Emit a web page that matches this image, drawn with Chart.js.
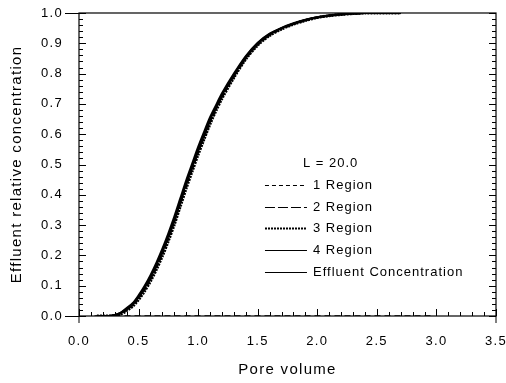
<!DOCTYPE html>
<html>
<head>
<meta charset="utf-8">
<script src="https://cdn.jsdelivr.net/npm/chart.js@4.4.0/dist/chart.umd.min.js"></script>
<style>
  html, body { margin: 0; padding: 0; background: #fff; }
  #wrap { width: 506px; height: 383px; position: relative; }
</style>
</head>
<body>
<div id="wrap"><canvas id="chart"></canvas></div>
<script>
// pore volume (x) shared by all curves
var poreVolume = [0.15, 0.2, 0.25, 0.3, 0.35, 0.4, 0.45, 0.5, 0.55, 0.6, 0.65, 0.7, 0.75, 0.8, 0.85, 0.9, 0.95, 1.0, 1.05, 1.1, 1.15, 1.2, 1.3, 1.4, 1.5, 1.6, 1.7, 1.8, 1.9, 2.0, 2.1, 2.2, 2.3, 2.4, 2.5, 2.6, 2.7];

var region1 = [0, 0, 0, 0.002, 0.008, 0.02, 0.035, 0.058, 0.087, 0.12, 0.16, 0.205, 0.255, 0.31, 0.37, 0.43, 0.485, 0.54, 0.59, 0.64, 0.683, 0.722, 0.79, 0.85, 0.895, 0.927, 0.948, 0.963, 0.976, 0.985, 0.991, 0.995, 0.998, 1, 1, 1, 1];
var region2 = [0, 0, 0, 0.002, 0.009, 0.022, 0.037, 0.061, 0.09, 0.124, 0.164, 0.209, 0.259, 0.314, 0.374, 0.434, 0.489, 0.544, 0.594, 0.644, 0.686, 0.725, 0.792, 0.852, 0.897, 0.928, 0.949, 0.964, 0.976, 0.985, 0.991, 0.995, 0.998, 1, 1, 1, 1];
var region3 = [0, 0, 0, 0.001, 0.006, 0.018, 0.032, 0.054, 0.082, 0.115, 0.154, 0.198, 0.248, 0.302, 0.362, 0.422, 0.478, 0.533, 0.584, 0.634, 0.678, 0.718, 0.787, 0.848, 0.894, 0.926, 0.947, 0.963, 0.975, 0.985, 0.991, 0.995, 0.998, 1, 1, 1, 1];
var region4 = [0, 0, 0, 0.003, 0.01, 0.024, 0.039, 0.064, 0.094, 0.129, 0.169, 0.214, 0.264, 0.319, 0.379, 0.439, 0.494, 0.549, 0.599, 0.649, 0.689, 0.729, 0.795, 0.855, 0.9, 0.93, 0.95, 0.965, 0.977, 0.986, 0.992, 0.996, 0.998, 1, 1, 1, 1];
var effluent = [0, 0, 0, 0.003, 0.011, 0.026, 0.042, 0.068, 0.099, 0.135, 0.176, 0.222, 0.273, 0.328, 0.388, 0.448, 0.503, 0.558, 0.608, 0.656, 0.696, 0.735, 0.8, 0.858, 0.902, 0.932, 0.951, 0.966, 0.978, 0.986, 0.992, 0.996, 0.998, 1, 1, 1, 1];

// zero-concentration trace lying along the bottom axis
var baseX = [0.13, 2.95];
var baseY = [0, 0];

var legendTitle = 'L = 20.0';
var xTicks = [0, 0.5, 1.0, 1.5, 2.0, 2.5, 3.0, 3.5];
var yTicks = [0, 0.1, 0.2, 0.3, 0.4, 0.5, 0.6, 0.7, 0.8, 0.9, 1.0];

function pts(xs, ys) {
  return xs.map(function (x, i) { return { x: x, y: ys[i] }; });
}

function series(label, ys, dash, width) {
  return {
    label: label,
    data: pts(poreVolume, ys),
    borderColor: '#000',
    borderWidth: width,
    borderDash: dash,
    pointRadius: 0,
    fill: false,
    tension: 0.3
  };
}

var datasets = [
  series('1 Region', region1, [4, 3], 2),
  series('2 Region', region2, [10, 3], 2),
  series('3 Region', region3, [2, 1], 3),
  series('4 Region', region4, [], 2),
  series('Effluent Concentration', effluent, [], 2),
  {
    label: '',
    data: pts(baseX, baseY),
    borderColor: '#000',
    borderWidth: 1.5,
    borderDash: [6, 4],
    pointRadius: 0,
    fill: false,
    hideInLegend: true
  }
];

// the scanned figure has slightly spaced lettering
var spacing = {
  id: 'spacing',
  beforeLayout: function (chart) { chart.ctx.letterSpacing = '1.3px'; },
  beforeDraw: function (chart) { chart.ctx.letterSpacing = '1.3px'; }
};

// frame, inward ticks and minor ticks
var frame = {
  id: 'frame',
  afterDatasetsDraw: function (chart) {
    var ctx = chart.ctx, a = chart.chartArea, x = chart.scales.x, y = chart.scales.y;
    ctx.save();
    ctx.strokeStyle = '#000';
    ctx.lineWidth = 1.2;
    ctx.strokeRect(a.left, a.top, a.right - a.left, a.bottom - a.top);
    ctx.lineWidth = 1;
    ctx.beginPath();
    for (var i = 0; i <= 35; i++) {
      var px = Math.round(x.getPixelForValue(i / 10)) + 0.5;
      var len = i % 5 === 0 ? 7 : 4;
      ctx.moveTo(px, a.bottom);
      ctx.lineTo(px, a.bottom - len);
    }
    for (var j = 0; j <= 50; j++) {
      var py = Math.round(y.getPixelForValue(j / 50)) + 0.5;
      var l = j % 5 === 0 ? 7 : 4;
      ctx.moveTo(a.left, py);
      ctx.lineTo(a.left + l, py);
      ctx.moveTo(a.right, py);
      ctx.lineTo(a.right - l, py);
    }
    // small outward extensions at the frame corners
    ctx.moveTo(a.left - 14, Math.round(a.bottom) + 0.5);
    ctx.lineTo(a.left, Math.round(a.bottom) + 0.5);
    ctx.moveTo(a.left - 14, Math.round(a.top) + 0.5);
    ctx.lineTo(a.left, Math.round(a.top) + 0.5);
    ctx.moveTo(a.left, a.bottom);
    ctx.lineTo(a.left, a.bottom + 7);
    ctx.moveTo(a.right, a.bottom);
    ctx.lineTo(a.right, a.bottom + 7);
    ctx.stroke();
    ctx.restore();
  }
};

// legend drawn inside the plot, right of the curve
var innerLegend = {
  id: 'innerLegend',
  afterDraw: function (chart) {
    var ctx = chart.ctx, a = chart.chartArea;
    var x0 = a.left + (a.right - a.left) * 0.446;
    var top = a.top + (a.bottom - a.top) * 0.495;
    ctx.save();
    ctx.fillStyle = '#000';
    ctx.font = '13px "Liberation Sans", Arial, sans-serif';
    ctx.letterSpacing = '1px';
    ctx.textBaseline = 'middle';
    ctx.fillText(legendTitle, x0 + 38, top);
    var k = 0;
    chart.data.datasets.forEach(function (ds) {
      if (ds.hideInLegend) return;
      k++;
      var ry = Math.round(top + k * 21.8) + 0.5;
      ctx.strokeStyle = '#000';
      ctx.lineWidth = ds.borderWidth > 2 ? 2 : 1;
      ctx.setLineDash(ds.borderDash || []);
      ctx.beginPath();
      ctx.moveTo(x0, ry);
      ctx.lineTo(x0 + 42, ry);
      ctx.stroke();
      ctx.setLineDash([]);
      ctx.fillText(ds.label, x0 + 48, ry);
    });
    ctx.restore();
  }
};

var font = { family: '"Liberation Sans", Arial, sans-serif', size: 13 };

new Chart(document.getElementById('chart'), {
  type: 'line',
  data: { datasets: datasets },
  plugins: [spacing, frame, innerLegend],
  options: {
    responsive: true,
    maintainAspectRatio: false,
    animation: false,
    layout: { padding: { left: 0, right: 10, top: 13, bottom: 0 } },
    plugins: { legend: { display: false }, tooltip: { enabled: false } },
    scales: {
      x: {
        type: 'linear',
        min: 0,
        max: 3.5,
        grid: { display: false, drawTicks: false },
        border: { display: false },
        afterBuildTicks: function (s) { s.ticks = xTicks.map(function (v) { return { value: v }; }); },
        afterFit: function (s) { s.height = 67; s.paddingLeft = 0; s.paddingRight = 0; },
        ticks: { color: '#000', font: font, padding: 18, maxRotation: 0,
          callback: function (v) { return Number(v).toFixed(1); } },
        title: { display: true, text: 'Pore volume', color: '#000',
          font: { family: font.family, size: 15 }, padding: { top: 6 } }
      },
      y: {
        min: 0,
        max: 1.0,
        grid: { display: false, drawTicks: false },
        border: { display: false },
        afterBuildTicks: function (s) { s.ticks = yTicks.map(function (v) { return { value: v }; }); },
        afterFit: function (s) { s.width = 79; s.paddingTop = 0; s.paddingBottom = 0; },
        ticks: { color: '#000', font: font, padding: 16,
          callback: function (v) { return Number(v).toFixed(1); } },
        title: { display: true, text: 'Effluent relative concentration', color: '#000',
          font: { family: font.family, size: 15 }, padding: { top: 8, bottom: 4 } }
      }
    }
  }
});
</script>
</body>
</html>
